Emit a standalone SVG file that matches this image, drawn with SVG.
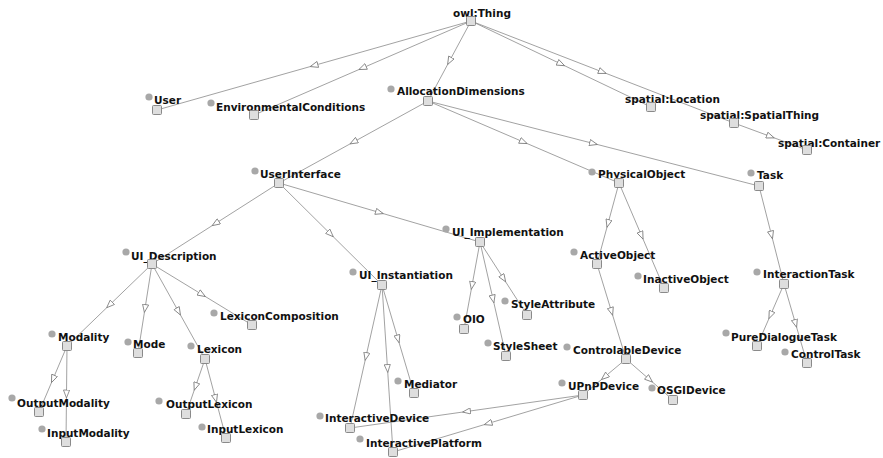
<svg xmlns="http://www.w3.org/2000/svg" width="883" height="458" viewBox="0 0 883 458">
<style>
.e{fill:none;stroke:#8a8a8a;stroke-width:0.8;marker-mid:url(#tri)}
.l{font-family:"DejaVu Sans","Verdana",sans-serif;font-weight:bold;font-size:10.5px;fill:#111}
.d{fill:#a8a8a8}
.s{fill:#dedede;stroke:#8a8a8a;stroke-width:1}
</style>
<defs>
<marker id="tri" viewBox="0 0 10 8" refX="5" refY="4" markerWidth="9" markerHeight="7" markerUnits="userSpaceOnUse" orient="auto">
<path d="M0.5,0.5 L9.5,4 L0.5,7.5 Z" fill="#fff" stroke="#777" stroke-width="0.9"/>
</marker>
</defs>
<rect width="883" height="458" fill="#fff"/>
<g id="edges">
<polyline class="e" points="471,21 314,65.5 157,110"/>
<polyline class="e" points="471,21 362.5,68 254,115"/>
<polyline class="e" points="471,21 449.5,61 428,101"/>
<polyline class="e" points="471,21 561,64 651,107"/>
<polyline class="e" points="471,21 602.5,72 734,123"/>
<polyline class="e" points="734,123 770.5,136.5 807,150"/>
<polyline class="e" points="428,101 353.5,142 279,183"/>
<polyline class="e" points="428,101 523.5,142 619,183"/>
<polyline class="e" points="428,101 593.5,143.5 759,186"/>
<polyline class="e" points="279,183 215.5,223.5 152,264"/>
<polyline class="e" points="279,183 330.5,234 382,285"/>
<polyline class="e" points="279,183 379.5,212.5 480,242"/>
<polyline class="e" points="152,264 109.5,305 67,346"/>
<polyline class="e" points="152,264 145,308.5 138,353"/>
<polyline class="e" points="152,264 178.5,311.5 205,359"/>
<polyline class="e" points="152,264 202,294.5 252,325"/>
<polyline class="e" points="480,242 472,285.5 464,329"/>
<polyline class="e" points="480,242 493,299 506,356"/>
<polyline class="e" points="480,242 503.5,278.5 527,315"/>
<polyline class="e" points="382,285 366,356.5 350,428"/>
<polyline class="e" points="382,285 387.5,368.5 393,452"/>
<polyline class="e" points="382,285 398,339 414,393"/>
<polyline class="e" points="619,183 608,223.5 597,264"/>
<polyline class="e" points="619,183 641.5,235.5 664,288"/>
<polyline class="e" points="597,264 611.5,311.5 626,359"/>
<polyline class="e" points="626,359 604.5,377 583,395"/>
<polyline class="e" points="626,359 649.5,379.5 673,400"/>
<polyline class="e" points="583,395 466.5,411.5 350,428"/>
<polyline class="e" points="583,395 488,423.5 393,452"/>
<polyline class="e" points="759,186 771.5,235 784,284"/>
<polyline class="e" points="784,284 770.5,315 757,346"/>
<polyline class="e" points="784,284 795.5,323.5 807,363"/>
<polyline class="e" points="67,346 53,379 39,412"/>
<polyline class="e" points="67,346 66.5,394 66,442"/>
<polyline class="e" points="205,359 195.5,386.5 186,414"/>
<polyline class="e" points="205,359 215.5,398.5 226,438"/>
</g>
<g id="owlThing"><text class="l" x="453" y="17">owl:Thing</text><rect class="s" x="466.5" y="16.5" width="9" height="9" rx="1"/></g>
<g id="User"><circle class="d" cx="149" cy="97" r="3.6"/><text class="l" x="154" y="104">User</text><rect class="s" x="152.5" y="105.5" width="9" height="9" rx="1"/></g>
<g id="EnvironmentalConditions"><circle class="d" cx="211" cy="103" r="3.6"/><text class="l" x="216" y="111">EnvironmentalConditions</text><rect class="s" x="249.5" y="110.5" width="9" height="9" rx="1"/></g>
<g id="AllocationDimensions"><circle class="d" cx="391" cy="89" r="3.6"/><text class="l" x="397" y="95">AllocationDimensions</text><rect class="s" x="423.5" y="96.5" width="9" height="9" rx="1"/></g>
<g id="spatialLocation"><text class="l" x="625" y="103">spatial:Location</text><rect class="s" x="646.5" y="102.5" width="9" height="9" rx="1"/></g>
<g id="spatialSpatialThing"><text class="l" x="700" y="119">spatial:SpatialThing</text><rect class="s" x="729.5" y="118.5" width="9" height="9" rx="1"/></g>
<g id="spatialContainer"><text class="l" x="778" y="147">spatial:Container</text><rect class="s" x="802.5" y="145.5" width="9" height="9" rx="1"/></g>
<g id="UserInterface"><circle class="d" cx="255" cy="171" r="3.6"/><text class="l" x="260" y="178">UserInterface</text><rect class="s" x="274.5" y="178.5" width="9" height="9" rx="1"/></g>
<g id="PhysicalObject"><circle class="d" cx="592" cy="172" r="3.6"/><text class="l" x="598" y="178">PhysicalObject</text><rect class="s" x="614.5" y="178.5" width="9" height="9" rx="1"/></g>
<g id="Task"><circle class="d" cx="751" cy="173" r="3.6"/><text class="l" x="757" y="179">Task</text><rect class="s" x="754.5" y="181.5" width="9" height="9" rx="1"/></g>
<g id="UI_Description"><circle class="d" cx="126" cy="252" r="3.6"/><text class="l" x="131" y="260">UI_Description</text><rect class="s" x="147.5" y="259.5" width="9" height="9" rx="1"/></g>
<g id="UI_Implementation"><circle class="d" cx="446" cy="229" r="3.6"/><text class="l" x="452" y="236">UI_Implementation</text><rect class="s" x="475.5" y="237.5" width="9" height="9" rx="1"/></g>
<g id="UI_Instantiation"><circle class="d" cx="353" cy="272" r="3.6"/><text class="l" x="359" y="279">UI_Instantiation</text><rect class="s" x="377.5" y="280.5" width="9" height="9" rx="1"/></g>
<g id="ActiveObject"><circle class="d" cx="574" cy="252" r="3.6"/><text class="l" x="580" y="259">ActiveObject</text><rect class="s" x="592.5" y="259.5" width="9" height="9" rx="1"/></g>
<g id="InactiveObject"><circle class="d" cx="638" cy="276" r="3.6"/><text class="l" x="643" y="283">InactiveObject</text><rect class="s" x="659.5" y="283.5" width="9" height="9" rx="1"/></g>
<g id="InteractionTask"><circle class="d" cx="757" cy="272" r="3.6"/><text class="l" x="763" y="278">InteractionTask</text><rect class="s" x="779.5" y="279.5" width="9" height="9" rx="1"/></g>
<g id="Modality"><circle class="d" cx="52" cy="334" r="3.6"/><text class="l" x="58" y="341">Modality</text><rect class="s" x="62.5" y="341.5" width="9" height="9" rx="1"/></g>
<g id="Mode"><circle class="d" cx="128" cy="342" r="3.6"/><text class="l" x="133" y="348">Mode</text><rect class="s" x="133.5" y="348.5" width="9" height="9" rx="1"/></g>
<g id="Lexicon"><circle class="d" cx="191" cy="346" r="3.6"/><text class="l" x="197" y="353">Lexicon</text><rect class="s" x="200.5" y="354.5" width="9" height="9" rx="1"/></g>
<g id="LexiconComposition"><circle class="d" cx="214" cy="313" r="3.6"/><text class="l" x="220" y="320">LexiconComposition</text><rect class="s" x="247.5" y="320.5" width="9" height="9" rx="1"/></g>
<g id="OIO"><circle class="d" cx="457" cy="317" r="3.6"/><text class="l" x="463" y="323">OIO</text><rect class="s" x="459.5" y="324.5" width="9" height="9" rx="1"/></g>
<g id="StyleAttribute"><circle class="d" cx="505" cy="301" r="3.6"/><text class="l" x="511" y="308">StyleAttribute</text><rect class="s" x="522.5" y="310.5" width="9" height="9" rx="1"/></g>
<g id="StyleSheet"><circle class="d" cx="488" cy="343" r="3.6"/><text class="l" x="493" y="350">StyleSheet</text><rect class="s" x="501.5" y="351.5" width="9" height="9" rx="1"/></g>
<g id="Mediator"><circle class="d" cx="398" cy="381" r="3.6"/><text class="l" x="404" y="388">Mediator</text><rect class="s" x="409.5" y="388.5" width="9" height="9" rx="1"/></g>
<g id="InteractiveDevice"><circle class="d" cx="320" cy="416" r="3.6"/><text class="l" x="325" y="422">InteractiveDevice</text><rect class="s" x="345.5" y="423.5" width="9" height="9" rx="1"/></g>
<g id="InteractivePlatform"><circle class="d" cx="360" cy="439" r="3.6"/><text class="l" x="366" y="447">InteractivePlatform</text><rect class="s" x="388.5" y="447.5" width="9" height="9" rx="1"/></g>
<g id="ControlableDevice"><circle class="d" cx="567" cy="347" r="3.6"/><text class="l" x="573" y="354">ControlableDevice</text><rect class="s" x="621.5" y="354.5" width="9" height="9" rx="1"/></g>
<g id="UPnPDevice"><circle class="d" cx="562" cy="383" r="3.6"/><text class="l" x="568" y="390">UPnPDevice</text><rect class="s" x="578.5" y="390.5" width="9" height="9" rx="1"/></g>
<g id="OSGIDevice"><circle class="d" cx="652" cy="388" r="3.6"/><text class="l" x="657" y="394">OSGIDevice</text><rect class="s" x="668.5" y="395.5" width="9" height="9" rx="1"/></g>
<g id="PureDialogueTask"><circle class="d" cx="726" cy="333" r="3.6"/><text class="l" x="731" y="341">PureDialogueTask</text><rect class="s" x="752.5" y="341.5" width="9" height="9" rx="1"/></g>
<g id="ControlTask"><circle class="d" cx="785" cy="352" r="3.6"/><text class="l" x="791" y="358">ControlTask</text><rect class="s" x="802.5" y="358.5" width="9" height="9" rx="1"/></g>
<g id="OutputModality"><circle class="d" cx="12" cy="398" r="3.6"/><text class="l" x="17" y="407">OutputModality</text><rect class="s" x="34.5" y="407.5" width="9" height="9" rx="1"/></g>
<g id="InputModality"><circle class="d" cx="42" cy="429" r="3.6"/><text class="l" x="47" y="437">InputModality</text><rect class="s" x="61.5" y="437.5" width="9" height="9" rx="1"/></g>
<g id="OutputLexicon"><circle class="d" cx="159" cy="401" r="3.6"/><text class="l" x="166" y="408">OutputLexicon</text><rect class="s" x="181.5" y="409.5" width="9" height="9" rx="1"/></g>
<g id="InputLexicon"><circle class="d" cx="202" cy="427" r="3.6"/><text class="l" x="207" y="433">InputLexicon</text><rect class="s" x="221.5" y="433.5" width="9" height="9" rx="1"/></g>
</svg>
